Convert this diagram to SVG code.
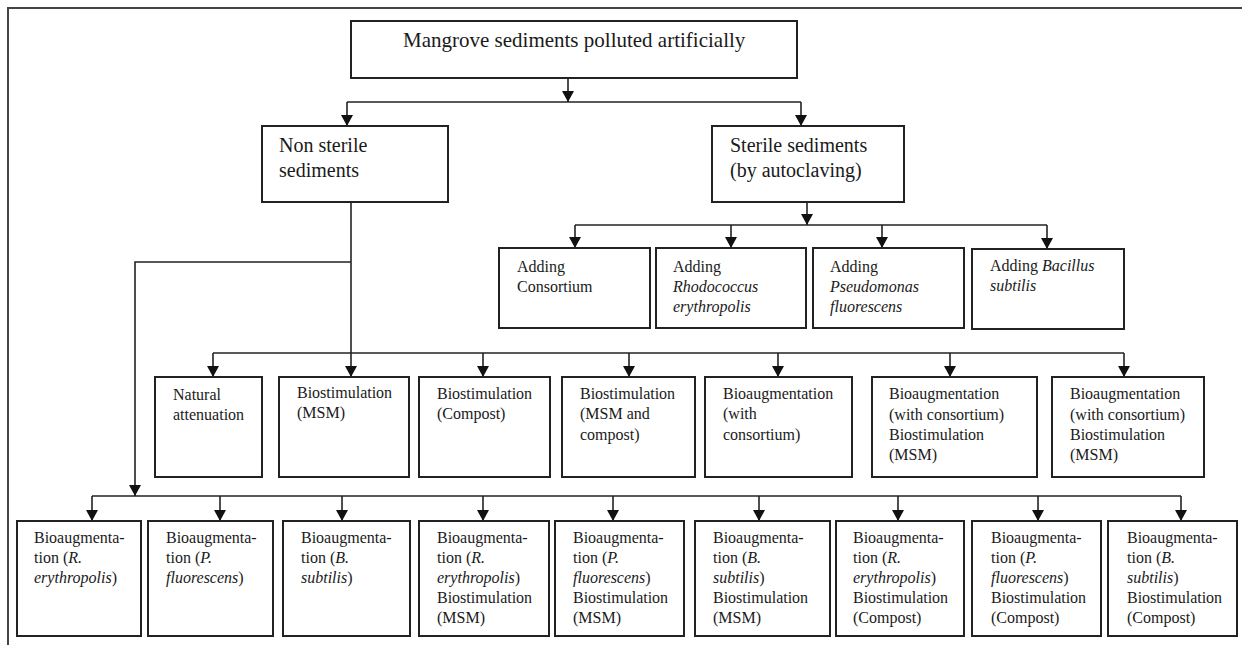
<svg xmlns="http://www.w3.org/2000/svg" width="1242" height="645" viewBox="0 0 1242 645">
  <defs>
    <!-- arrowhead drawn along +x so orient="auto" turns it with the line -->
    <marker id="arrow" viewBox="0 0 11 12" refX="11" refY="6" markerWidth="11" markerHeight="12" markerUnits="userSpaceOnUse" orient="auto">
      <path d="M0,0 L11,6 L0,12 Z" fill="#111"/>
    </marker>
    <style>
      .box { fill: #fff; stroke: #222; stroke-width: 2; }
      .frame { fill: none; stroke: #444; stroke-width: 2; }
      .line { fill: none; stroke: #222; stroke-width: 1.6; }
      .arr { fill: none; stroke: #222; stroke-width: 1.6; marker-end: url(#arrow); }
      text { font-family: "Liberation Serif", "Times New Roman", serif; fill: #1a1a1a; }
      .t1 { font-size: 21px; }
      .t2 { font-size: 20px; }
      .t3 { font-size: 16px; }
      .i { font-style: italic; }
    </style>
  </defs>

  <rect width="1242" height="645" fill="#fff"/>

  <!-- page frame -->
  <path class="frame" d="M8,645 L8,8 L1242,8"/>

  <!-- connectors -->
  <g id="connectors">
    <!-- root to first split -->
    <line class="arr" x1="568" y1="78" x2="568" y2="102"/>
    <line class="line" x1="347" y1="102" x2="801" y2="102"/>
    <line class="arr" x1="347" y1="102" x2="347" y2="126"/>
    <line class="arr" x1="801" y1="102" x2="801" y2="126"/>

    <!-- sterile branch -->
    <line class="arr" x1="807" y1="202" x2="807" y2="225"/>
    <line class="line" x1="575" y1="225" x2="1047" y2="225"/>
    <line class="arr" x1="575" y1="225" x2="575" y2="248"/>
    <line class="arr" x1="731" y1="225" x2="731" y2="248"/>
    <line class="arr" x1="882" y1="225" x2="882" y2="248"/>
    <line class="arr" x1="1047" y1="225" x2="1047" y2="249"/>

    <!-- non sterile branch -->
    <line class="arr" x1="351" y1="202" x2="351" y2="377"/>
    <polyline class="arr" points="351,262 135,262 135,496"/>
    <line class="line" x1="213" y1="353" x2="1124" y2="353"/>
    <line class="arr" x1="213" y1="353" x2="213" y2="377"/>
    <line class="arr" x1="483" y1="353" x2="483" y2="377"/>
    <line class="arr" x1="629" y1="353" x2="629" y2="377"/>
    <line class="arr" x1="778" y1="353" x2="778" y2="377"/>
    <line class="arr" x1="950" y1="353" x2="950" y2="377"/>
    <line class="arr" x1="1124" y1="353" x2="1124" y2="377"/>

    <!-- bottom row -->
    <line class="line" x1="92" y1="496" x2="1181" y2="496"/>
    <line class="arr" x1="92" y1="496" x2="92" y2="521"/>
    <line class="arr" x1="220" y1="496" x2="220" y2="521"/>
    <line class="arr" x1="342" y1="496" x2="342" y2="521"/>
    <line class="arr" x1="483" y1="496" x2="483" y2="521"/>
    <line class="arr" x1="613" y1="496" x2="613" y2="521"/>
    <line class="arr" x1="759" y1="496" x2="759" y2="521"/>
    <line class="arr" x1="898" y1="496" x2="898" y2="521"/>
    <line class="arr" x1="1038" y1="496" x2="1038" y2="521"/>
    <line class="arr" x1="1181" y1="496" x2="1181" y2="521"/>
  </g>

  <!-- root -->
  <g id="root">
    <rect class="box" x="351" y="21" width="446" height="57"/>
    <text class="t1" x="403" y="47">Mangrove sediments polluted artificially</text>
  </g>

  <!-- second level -->
  <g id="non-sterile">
    <rect class="box" x="262" y="126" width="186" height="76"/>
    <text class="t2" x="279" y="152">Non sterile</text>
    <text class="t2" x="279" y="177">sediments</text>
  </g>
  <g id="sterile">
    <rect class="box" x="712" y="126" width="192" height="76"/>
    <text class="t2" x="730" y="152">Sterile sediments</text>
    <text class="t2" x="730" y="177">(by autoclaving)</text>
  </g>

  <!-- additions to sterile sediments -->
  <g id="add-consortium">
    <rect class="box" x="499" y="248" width="151" height="80"/>
    <text class="t3" x="517" y="272">Adding</text>
    <text class="t3" x="517" y="292">Consortium</text>
  </g>
  <g id="add-rhodococcus">
    <rect class="box" x="656" y="248" width="150" height="80"/>
    <text class="t3" x="673" y="272">Adding</text>
    <text class="t3 i" x="673" y="292">Rhodococcus</text>
    <text class="t3 i" x="673" y="312">erythropolis</text>
  </g>
  <g id="add-pseudomonas">
    <rect class="box" x="813" y="248" width="151" height="80"/>
    <text class="t3" x="830" y="272">Adding</text>
    <text class="t3 i" x="830" y="292">Pseudomonas</text>
    <text class="t3 i" x="830" y="312">fluorescens</text>
  </g>
  <g id="add-bacillus">
    <rect class="box" x="972" y="249" width="152" height="80"/>
    <text class="t3" x="990" y="271">Adding <tspan class="i">Bacillus</tspan></text>
    <text class="t3 i" x="990" y="291">subtilis</text>
  </g>

  <!-- treatments of non sterile sediments -->
  <g id="natural">
    <rect class="box" x="155" y="377" width="107" height="100"/>
    <text class="t3" x="173" y="400">Natural</text>
    <text class="t3" x="173" y="420">attenuation</text>
  </g>
  <g id="bs-msm">
    <rect class="box" x="279" y="377" width="130" height="100"/>
    <text class="t3" x="297" y="398">Biostimulation</text>
    <text class="t3" x="297" y="418">(MSM)</text>
  </g>
  <g id="bs-compost">
    <rect class="box" x="419" y="377" width="131" height="100"/>
    <text class="t3" x="437" y="399">Biostimulation</text>
    <text class="t3" x="437" y="419">(Compost)</text>
  </g>
  <g id="bs-msm-compost">
    <rect class="box" x="562" y="377" width="133" height="100"/>
    <text class="t3" x="580" y="399">Biostimulation</text>
    <text class="t3" x="580" y="419">(MSM and</text>
    <text class="t3" x="580" y="440">compost)</text>
  </g>
  <g id="ba-consortium">
    <rect class="box" x="705" y="377" width="147" height="100"/>
    <text class="t3" x="723" y="399">Bioaugmentation</text>
    <text class="t3" x="723" y="419">(with</text>
    <text class="t3" x="723" y="440">consortium)</text>
  </g>
  <g id="ba-consortium-msm-1">
    <rect class="box" x="872" y="377" width="165" height="100"/>
    <text class="t3" x="889" y="399">Bioaugmentation</text>
    <text class="t3" x="889" y="420">(with consortium)</text>
    <text class="t3" x="889" y="440">Biostimulation</text>
    <text class="t3" x="889" y="460">(MSM)</text>
  </g>
  <g id="ba-consortium-msm-2">
    <rect class="box" x="1052" y="377" width="152" height="100"/>
    <text class="t3" x="1070" y="399">Bioaugmentation</text>
    <text class="t3" x="1070" y="420">(with consortium)</text>
    <text class="t3" x="1070" y="440">Biostimulation</text>
    <text class="t3" x="1070" y="460">(MSM)</text>
  </g>

  <!-- single strain treatments -->
  <g id="ba-re">
    <rect class="box" x="17" y="521" width="124" height="115"/>
    <text class="t3" x="34" y="543">Bioaugmenta-</text>
    <text class="t3" x="34" y="563">tion (<tspan class="i">R.</tspan></text>
    <text class="t3" x="34" y="583"><tspan class="i">erythropolis</tspan>)</text>
  </g>
  <g id="ba-pf">
    <rect class="box" x="148" y="521" width="125" height="115"/>
    <text class="t3" x="166" y="543">Bioaugmenta-</text>
    <text class="t3" x="166" y="563">tion (<tspan class="i">P.</tspan></text>
    <text class="t3" x="166" y="583"><tspan class="i">fluorescens</tspan>)</text>
  </g>
  <g id="ba-bs">
    <rect class="box" x="283" y="521" width="127" height="115"/>
    <text class="t3" x="301" y="543">Bioaugmenta-</text>
    <text class="t3" x="301" y="563">tion (<tspan class="i">B.</tspan></text>
    <text class="t3" x="301" y="583"><tspan class="i">subtilis</tspan>)</text>
  </g>
  <g id="ba-re-msm">
    <rect class="box" x="419" y="521" width="130" height="115"/>
    <text class="t3" x="437" y="543">Bioaugmenta-</text>
    <text class="t3" x="437" y="563">tion (<tspan class="i">R.</tspan></text>
    <text class="t3" x="437" y="583"><tspan class="i">erythropolis</tspan>)</text>
    <text class="t3" x="437" y="603">Biostimulation</text>
    <text class="t3" x="437" y="623">(MSM)</text>
  </g>
  <g id="ba-pf-msm">
    <rect class="box" x="555" y="521" width="129" height="115"/>
    <text class="t3" x="573" y="543">Bioaugmenta-</text>
    <text class="t3" x="573" y="563">tion (<tspan class="i">P.</tspan></text>
    <text class="t3" x="573" y="583"><tspan class="i">fluorescens</tspan>)</text>
    <text class="t3" x="573" y="603">Biostimulation</text>
    <text class="t3" x="573" y="623">(MSM)</text>
  </g>
  <g id="ba-bs-msm">
    <rect class="box" x="695" y="521" width="135" height="115"/>
    <text class="t3" x="713" y="543">Bioaugmenta-</text>
    <text class="t3" x="713" y="563">tion (<tspan class="i">B.</tspan></text>
    <text class="t3" x="713" y="583"><tspan class="i">subtilis</tspan>)</text>
    <text class="t3" x="713" y="603">Biostimulation</text>
    <text class="t3" x="713" y="623">(MSM)</text>
  </g>
  <g id="ba-re-compost">
    <rect class="box" x="836" y="521" width="128" height="115"/>
    <text class="t3" x="853" y="543">Bioaugmenta-</text>
    <text class="t3" x="853" y="563">tion (<tspan class="i">R.</tspan></text>
    <text class="t3" x="853" y="583"><tspan class="i">erythropolis</tspan>)</text>
    <text class="t3" x="853" y="603">Biostimulation</text>
    <text class="t3" x="853" y="623">(Compost)</text>
  </g>
  <g id="ba-pf-compost">
    <rect class="box" x="972" y="521" width="129" height="115"/>
    <text class="t3" x="991" y="543">Bioaugmenta-</text>
    <text class="t3" x="991" y="563">tion (<tspan class="i">P.</tspan></text>
    <text class="t3" x="991" y="583"><tspan class="i">fluorescens</tspan>)</text>
    <text class="t3" x="991" y="603">Biostimulation</text>
    <text class="t3" x="991" y="623">(Compost)</text>
  </g>
  <g id="ba-bs-compost">
    <rect class="box" x="1108" y="521" width="129" height="115"/>
    <text class="t3" x="1127" y="543">Bioaugmenta-</text>
    <text class="t3" x="1127" y="563">tion (<tspan class="i">B.</tspan></text>
    <text class="t3" x="1127" y="583"><tspan class="i">subtilis</tspan>)</text>
    <text class="t3" x="1127" y="603">Biostimulation</text>
    <text class="t3" x="1127" y="623">(Compost)</text>
  </g>
</svg>
